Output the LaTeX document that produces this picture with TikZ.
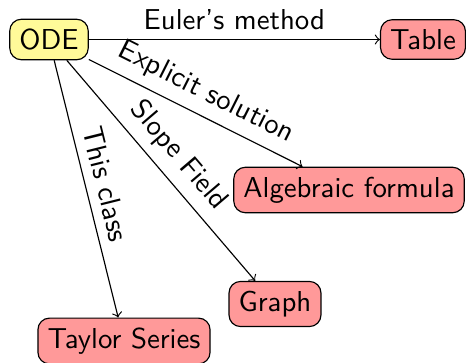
\documentclass[tikz,border=0pt]{standalone}
\begin{document}
\begin{tikzpicture}[x=0.347pt, y=-0.347pt, font=\sffamily,
  box/.style={draw, rounded corners=4pt},
  start/.style={box, fill=yellow!40},
  goal/.style={box, fill=red!40},
  link/.style={->},
  lbl/.style={above, sloped}]
  \useasboundingbox (0,0) rectangle (466,363);
  % nodes
  \node[start] (ode)   at (49,39.5)  {ODE};
  \node[goal]  (table) at (423,39.5) {Table};
  \node[goal]  (alg)   at (349,190)  {Algebraic formula};
  \node[goal]  (graph) at (275,304)  {Graph};
  \node[goal]  (tay)   at (124,341)  {Taylor Series};
  % connectors
  \draw[link] (ode) -- node[lbl] {Euler's method} (table);
  \draw[link] (ode) -- node[lbl] {Explicit solution} (alg);
  \draw[link] (ode) -- node[lbl] {Slope Field} (graph);
  \draw[link] (ode) -- node[lbl] {This class} (tay);
\end{tikzpicture}
\end{document}
